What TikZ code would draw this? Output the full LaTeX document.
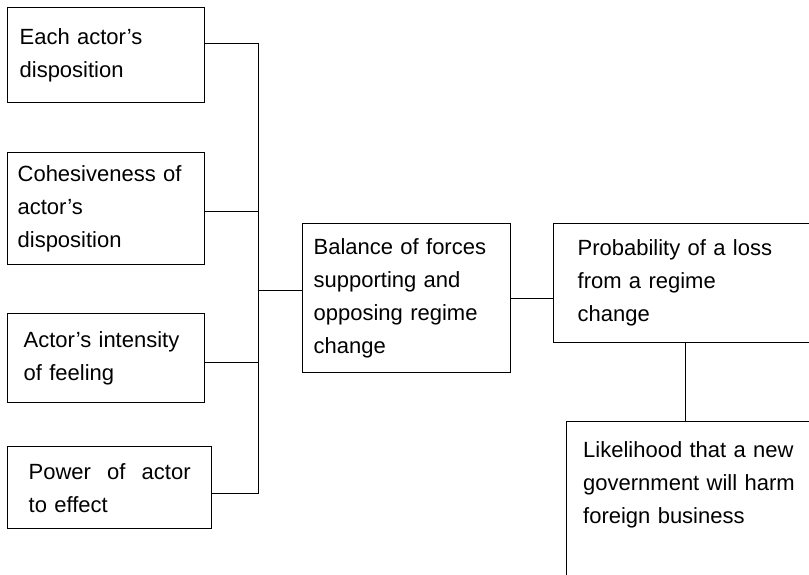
\documentclass[tikz,border=0pt]{standalone}
\usepackage{fontspec}
\setmainfont{Liberation Sans}
\usetikzlibrary{positioning}
\begin{document}
\begin{tikzpicture}
[x=1pt, y=-1pt,
factor/.style={draw, line width=1.3pt, anchor=north west, align=left, inner ysep=0pt, font=\fontsize{22}{33}\selectfont},
factortext/.style={anchor=north west, align=left, inner sep=0pt, font=\fontsize{22}{33}\selectfont},
link/.style={line width=1pt},
]
\useasboundingbox (0,0) rectangle (809,574);
%inputs
\node[factor, inner xsep=12pt, text width=173pt, minimum height=95pt](disp) at (7,7) {Each actor's\\disposition};
\node[factor, inner xsep=10pt, text width=177pt, minimum height=112pt](cohes) at (7,152) {Cohesiveness of\\actor's\\disposition};
\node[factor, inner xsep=16pt, text width=165pt, minimum height=89pt](intens) at (7,313) {Actor's intensity\\of feeling};
\node[factor, inner xsep=18pt, text width=162pt, minimum height=82pt, minimum width=204pt](power) at (7,446) {Power\hfill of\hfill actor\\to effect};
% balance
\node[factor, inner xsep=11pt, text width=186pt, minimum height=149pt](balance) at (302,223) {Balance of forces\\supporting and\\opposing regime\\change};
% outcome
\node[factor, inner xsep=24pt, text width=216pt, minimum height=119pt](prob) at (553,223) {Probability of a loss\\from a regime\\change};
\node[factor, minimum width=300pt, minimum height=200pt](harm) at (566,421) {};
\node[factortext, text width=220pt](harmtext) at ([xshift=17pt, yshift=-20pt]harm.north west) {Likelihood that a new\\government will harm\\foreign business};
%draw line
\coordinate (spinetop) at (258,43);
\coordinate (spinebot) at (258,493);
\draw[link] (disp.east |- spinetop) -- (spinetop) -- (spinebot) -- (power.east |- spinebot);
\draw[link] ([yshift=-3pt]cohes.east) -- ([yshift=-3pt]cohes.east -| spinetop);
\draw[link] ([yshift=-4pt]intens.east) -- ([yshift=-4pt]intens.east -| spinetop);
\draw[link] ([yshift=8pt]balance.west) -- ([yshift=8pt]balance.west -| spinetop);
\draw[link] (balance.east) -- (balance.east -| prob.west);
\draw[link] (prob.south) -- (prob.south |- harm.north);
\end{tikzpicture}
\end{document}
